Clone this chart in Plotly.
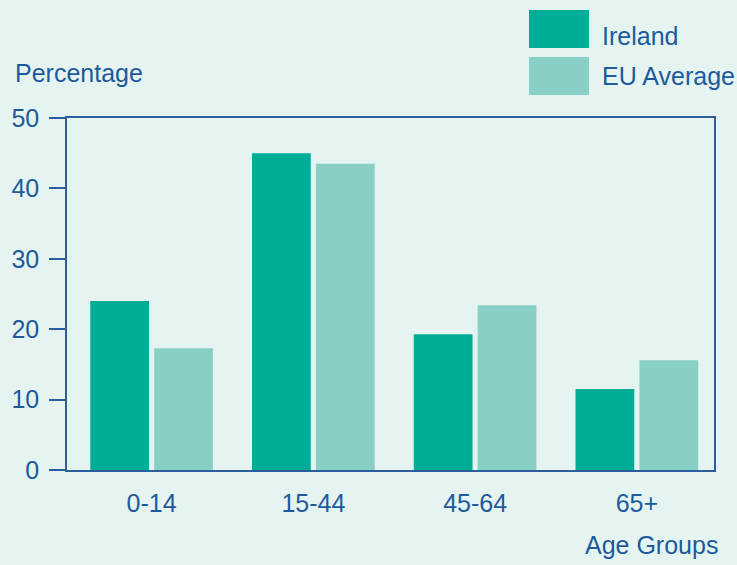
import plotly.graph_objects as go

categories = ["0-14", "15-44", "45-64", "65+"]
ireland = [24.0, 45.0, 19.3, 11.5]
eu_average = [17.3, 43.5, 23.4, 15.6]
series_names = ["Ireland", "EU Average"]
y_ticks = [0, 10, 20, 30, 40, 50]

BG = "#E6F4F1"
TXT = "#1D5A9C"
AX = "#2C5E9E"
C_IRL = "#00AE98"
C_EU = "#88D0C6"
FONT = "Liberation Sans"
FS = 25

fig = go.Figure()
fig.add_trace(go.Bar(x=categories, y=ireland, name=series_names[0], marker_color=C_IRL, marker_line_width=0))
fig.add_trace(go.Bar(x=categories, y=eu_average, name=series_names[1], marker_color=C_EU, marker_line_width=0))

fig.update_layout(
    width=737, height=565,
    paper_bgcolor=BG, plot_bgcolor=BG,
    margin=dict(l=67, r=23, t=118, b=95),
    barmode="group", bargap=0.21, bargroupgap=0.08,
    showlegend=False,
    font=dict(family=FONT, size=FS, color=TXT),
)
fig.update_xaxes(
    range=[-0.523, 3.477], showline=True, linecolor=AX, linewidth=1.5, mirror=True,
    ticks="outside", ticklen=10, tickcolor=BG, showgrid=False,
    tickfont=dict(family=FONT, size=FS, color=TXT),
)
fig.update_yaxes(
    range=[0, 50], tickvals=y_ticks, showline=True, linecolor=AX, linewidth=1.5, mirror=True,
    ticks="outside", ticklen=16, tickcolor=AX, tickwidth=1.5, showgrid=False, zeroline=False,
    ticklabelstandoff=5,
    tickfont=dict(family=FONT, size=FS, color=TXT),
)

# axis titles
fig.add_annotation(text="Percentage", xref="paper", yref="paper", x=(13 - 67) / 647, y=(470 - 73) / 352,
                   xanchor="left", yanchor="middle", showarrow=False,
                   font=dict(family=FONT, size=FS, color=TXT))
fig.add_annotation(text="Age Groups", xref="paper", yref="paper", x=(720 - 67) / 647, y=(470 - 545) / 352,
                   xanchor="right", yanchor="middle", showarrow=False,
                   font=dict(family=FONT, size=FS, color=TXT))

# legend drawn as swatches + labels (swatch top, swatch bottom, text centre)
legend_items = [(series_names[0], C_IRL, 10, 48, 36), (series_names[1], C_EU, 57, 95, 76)]
for name, col, y0, y1, ty in legend_items:
    fig.add_shape(type="rect", xref="paper", yref="paper",
                  x0=(529 - 67) / 647, x1=(589 - 67) / 647,
                  y0=(470 - y1) / 352, y1=(470 - y0) / 352,
                  fillcolor=col, line_width=0)
    fig.add_annotation(text=name, xref="paper", yref="paper",
                       x=(600 - 67) / 647, y=(470 - ty) / 352,
                       xanchor="left", yanchor="middle", showarrow=False,
                       font=dict(family=FONT, size=FS, color=TXT))

fig.write_html(
    "out.html",
    config={"displayModeBar": False},
    post_script="document.body.style.margin='0';document.body.style.background='%s';" % BG,
)
